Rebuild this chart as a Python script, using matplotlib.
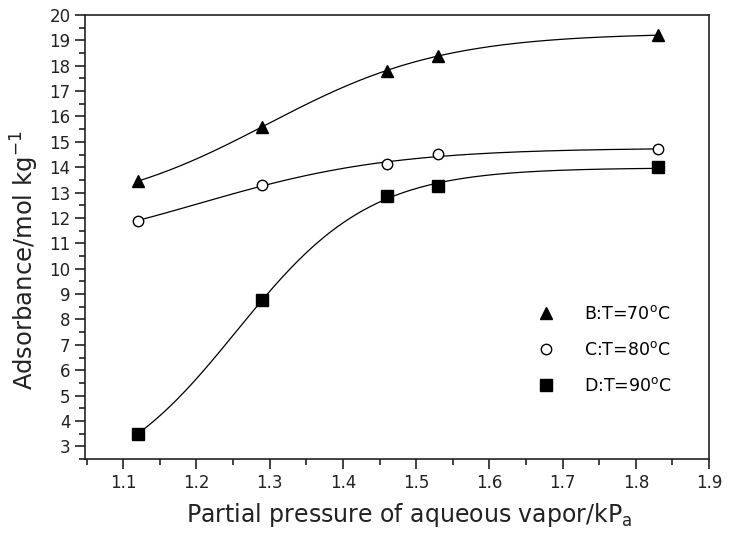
import numpy as np
import matplotlib
matplotlib.use("Agg")
import matplotlib.pyplot as plt
from matplotlib.ticker import MultipleLocator

x = [1.12, 1.29, 1.46, 1.53, 1.83]
b_vals = [13.45, 15.6, 17.8, 18.4, 19.2]
c_vals = [11.9, 13.28, 14.12, 14.52, 14.7]
d_vals = [3.5, 8.76, 12.85, 13.25, 14.0]
labels = ["B:T=70$^\\mathrm{o}$C", "C:T=80$^\\mathrm{o}$C", "D:T=90$^\\mathrm{o}$C"]


def boltz(p, xx):
    a1, a2, x0, dx = p
    z = np.clip((xx - x0) / dx, -60, 60)
    return a2 + (a1 - a2) / (1 + np.exp(z))


def fit(xk, yk):
    xk = np.asarray(xk, float); yk = np.asarray(yk, float)
    best = None
    for x0s in np.linspace(0.9, 1.5, 13):
        for dxs in (0.04, 0.07, 0.1, 0.15):
            p = np.array([yk.min() - 1.0, yk.max() + 0.2, x0s, dxs])
            lam = 1e-2
            def sse(pp):
                return np.sum((boltz(pp, xk) - yk) ** 2)
            cur = sse(p)
            for _ in range(300):
                r = boltz(p, xk) - yk
                J = np.zeros((len(xk), 4))
                for k in range(4):
                    dp = np.zeros(4); dp[k] = 1e-6 * max(1.0, abs(p[k]))
                    J[:, k] = (boltz(p + dp, xk) - boltz(p - dp, xk)) / (2 * dp[k])
                A = J.T @ J; g = J.T @ r
                step = np.linalg.solve(A + lam * np.diag(np.diag(A) + 1e-9), -g)
                pn = p + step
                if pn[3] <= 0.005:
                    lam *= 10; continue
                new = sse(pn)
                if new < cur:
                    p, cur = pn, new; lam = max(lam / 3, 1e-9)
                else:
                    lam *= 5
                if lam > 1e8:
                    break
            if abs(p[0]) > 200 or abs(p[1]) > 200:
                continue
            if best is None or cur < best[0]:
                best = (cur, p.copy())
    return best[1]


fig = plt.figure(figsize=(7.34, 5.35), dpi=100)
ax = fig.add_axes([0.116, 0.142, 0.85, 0.83])

xs = np.linspace(x[0], x[-1], 400)
for vals, mk, fc, lab in [(b_vals, "^", "black", labels[0]),
                          (c_vals, "o", "white", labels[1]),
                          (d_vals, "s", "black", labels[2])]:
    p = fit(x, vals)
    ax.plot(xs, boltz(p, xs), color="black", lw=0.9, zorder=2)
    ms = {"^": 9, "o": 7.5, "s": 8}[mk]
    ax.plot(x, vals, linestyle="none", marker=mk, markersize=ms,
            markerfacecolor=fc, markeredgecolor="black", markeredgewidth=1.0,
            label=lab, zorder=3)

ax.set_xlim(1.048, 1.9)
ax.set_ylim(2.5, 20)
ax.xaxis.set_minor_locator(MultipleLocator(0.05))
ax.yaxis.set_minor_locator(MultipleLocator(0.5))
xt = np.round(np.arange(1.1, 1.91, 0.1), 1)
ax.set_xticks(xt)
ax.set_xticklabels([f"{v:.1f}" for v in xt])
ax.set_yticks(np.arange(3, 21, 1))
ax.tick_params(which="both", direction="out", top=False, right=False, colors="#222222", width=1.2)
ax.tick_params(which="major", length=7, labelsize=12)
ax.tick_params(which="minor", length=4)
for s in ax.spines.values():
    s.set_linewidth(1.2)
    s.set_color("#222222")

ax.set_xlabel("Partial pressure of aqueous vapor/kP$_\\mathrm{a}$", fontsize=17, color="#222222")
ax.set_ylabel("Adsorbance/mol kg$^{-1}$", fontsize=17.5, color="#222222")
ax.xaxis.set_label_coords(0.519, -0.094)
ax.yaxis.set_label_coords(-0.071, 0.448)

leg = ax.legend(loc="center left", bbox_to_anchor=(0.70, 0.245), frameon=False,
                fontsize=12.5, handletextpad=1.7, labelspacing=1.05, handlelength=1.0)

fig.savefig("out.png", dpi=100)
